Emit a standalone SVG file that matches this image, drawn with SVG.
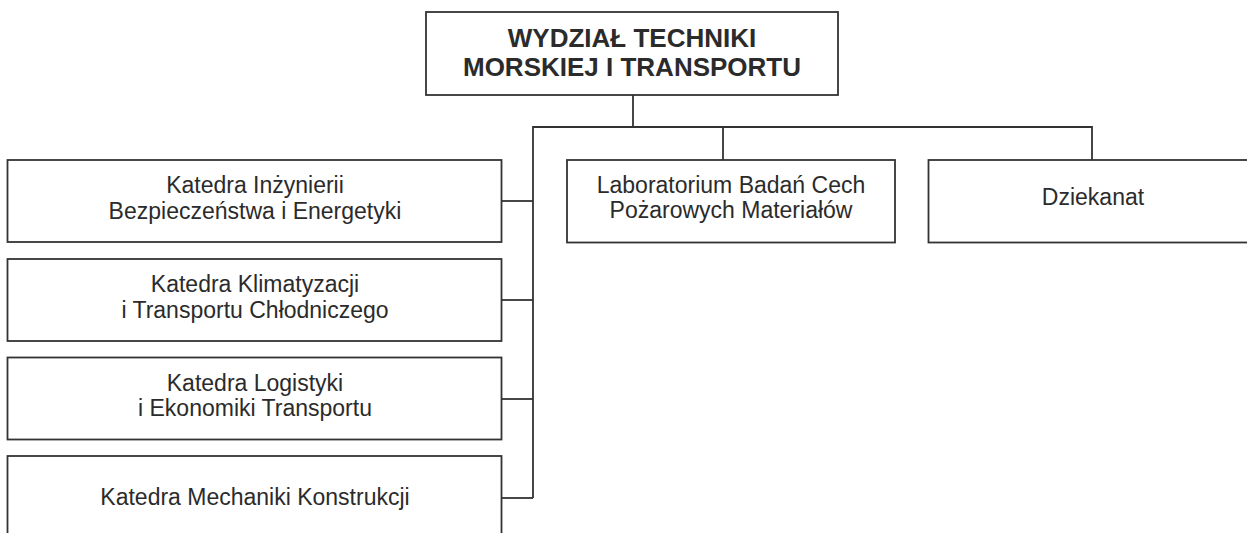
<svg xmlns="http://www.w3.org/2000/svg" width="1247" height="533" viewBox="0 0 1247 533">
  <style>
    .box { fill: #ffffff; stroke: #333333; stroke-width: 1.8; }
    .wire { fill: none; stroke: #333333; stroke-width: 1.8; }
    .lbl { font-family: "Liberation Sans", Arial, sans-serif; font-size: 23px; fill: #2b2b2b; text-anchor: middle; }
    .head { font-family: "Liberation Sans", Arial, sans-serif; font-size: 26px; font-weight: bold; fill: #2b2b2b; text-anchor: middle; }
  </style>
  <rect width="1247" height="533" fill="#ffffff"/>

  <!-- connectors -->
  <g id="connectors">
    <!-- faculty down to the bus -->
    <line class="wire" x1="633" y1="95" x2="633" y2="127"/>
    <!-- top bus -->
    <polyline class="wire" points="533,498 533,127 1092,127 1092,160"/>
    <line class="wire" x1="723" y1="127" x2="723" y2="160"/>
    <!-- branches to departments -->
    <line class="wire" x1="502" y1="201" x2="533" y2="201"/>
    <line class="wire" x1="502" y1="300" x2="533" y2="300"/>
    <line class="wire" x1="502" y1="399" x2="533" y2="399"/>
    <line class="wire" x1="502" y1="498" x2="533" y2="498"/>
  </g>

  <g id="wydzial">
    <rect class="box" x="426" y="12" width="412" height="83"/>
    <text class="head" x="632" y="46.5">WYDZIAŁ TECHNIKI</text>
    <text class="head" x="632" y="76">MORSKIEJ I TRANSPORTU</text>
  </g>

  <g id="katedra-inzynierii">
    <rect class="box" x="7.5" y="160" width="494" height="82"/>
    <text class="lbl" x="255" y="193">Katedra Inżynierii</text>
    <text class="lbl" x="255" y="218.5">Bezpieczeństwa i Energetyki</text>
  </g>

  <g id="katedra-klimatyzacji">
    <rect class="box" x="7.5" y="259" width="494" height="82"/>
    <text class="lbl" x="255" y="292">Katedra Klimatyzacji</text>
    <text class="lbl" x="255" y="317.5">i Transportu Chłodniczego</text>
  </g>

  <g id="katedra-logistyki">
    <rect class="box" x="7.5" y="357.5" width="494" height="82"/>
    <text class="lbl" x="255" y="390.5">Katedra Logistyki</text>
    <text class="lbl" x="255" y="416">i Ekonomiki Transportu</text>
  </g>

  <g id="katedra-mechaniki">
    <rect class="box" x="7.5" y="456" width="494" height="82"/>
    <text class="lbl" x="255" y="504.5">Katedra Mechaniki Konstrukcji</text>
  </g>

  <g id="laboratorium">
    <rect class="box" x="567" y="160" width="328" height="82.5"/>
    <text class="lbl" x="731" y="192.7">Laboratorium Badań Cech</text>
    <text class="lbl" x="731" y="218">Pożarowych Materiałów</text>
  </g>

  <g id="dziekanat">
    <rect class="box" x="928.5" y="160" width="330" height="82.5"/>
    <text class="lbl" x="1093" y="205">Dziekanat</text>
  </g>
</svg>
